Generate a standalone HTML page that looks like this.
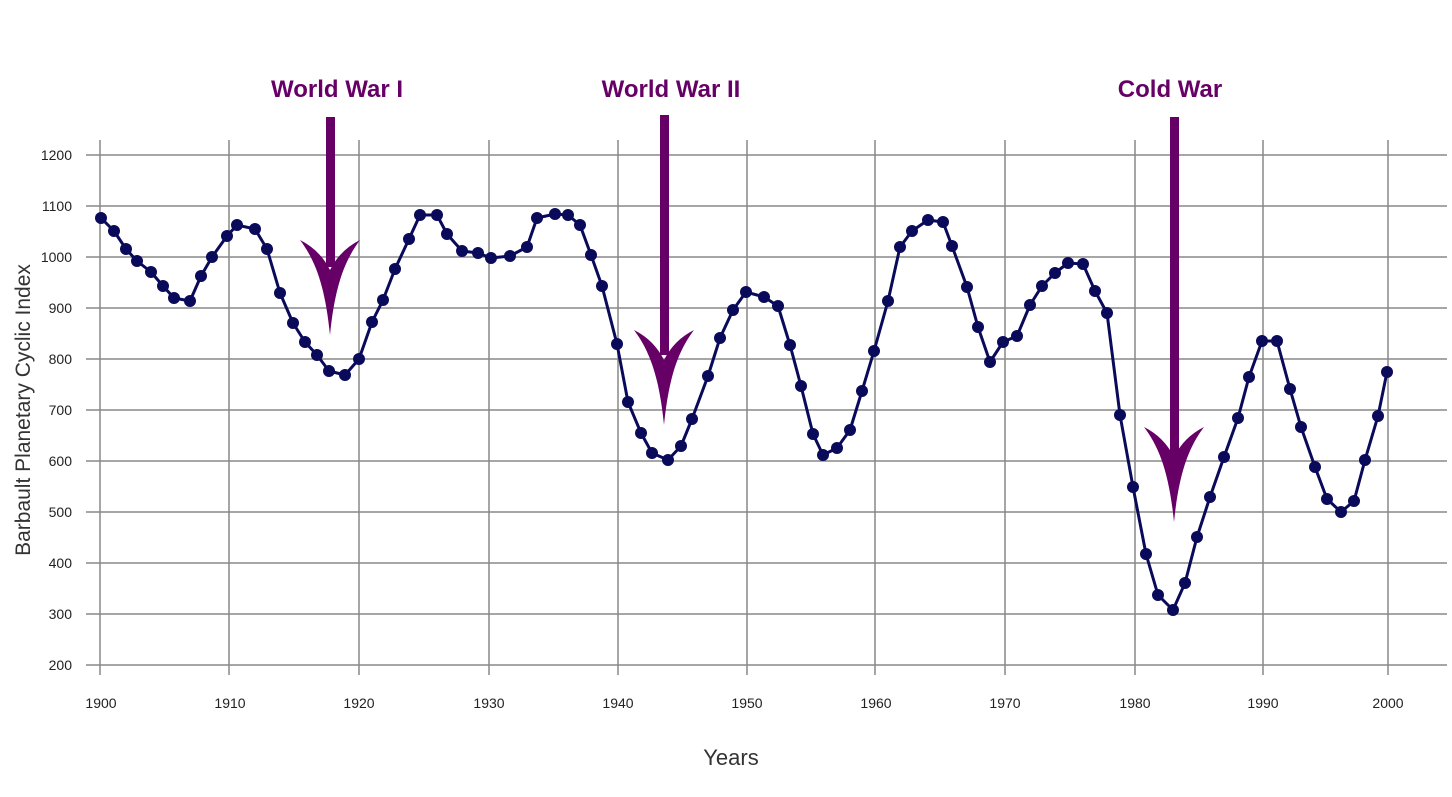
<!DOCTYPE html>
<html><head><style>body{margin:0;background:#fff}svg{display:block}</style></head><body>
<svg width="1452" height="797" xmlns="http://www.w3.org/2000/svg" font-family="Liberation Sans, sans-serif">
<rect width="1452" height="797" fill="#fff"/>
<g stroke="#888" stroke-width="1.5">
<line x1="86" y1="155" x2="1447" y2="155"/><line x1="86" y1="206" x2="1447" y2="206"/><line x1="86" y1="257" x2="1447" y2="257"/><line x1="86" y1="308" x2="1447" y2="308"/><line x1="86" y1="359" x2="1447" y2="359"/><line x1="86" y1="410" x2="1447" y2="410"/><line x1="86" y1="461" x2="1447" y2="461"/><line x1="86" y1="512" x2="1447" y2="512"/><line x1="86" y1="563" x2="1447" y2="563"/><line x1="86" y1="614" x2="1447" y2="614"/><line x1="86" y1="665" x2="1447" y2="665"/>
<line x1="100" y1="140" x2="100" y2="675"/><line x1="229" y1="140" x2="229" y2="675"/><line x1="359" y1="140" x2="359" y2="675"/><line x1="489" y1="140" x2="489" y2="675"/><line x1="618" y1="140" x2="618" y2="675"/><line x1="747" y1="140" x2="747" y2="675"/><line x1="875" y1="140" x2="875" y2="675"/><line x1="1005" y1="140" x2="1005" y2="675"/><line x1="1135" y1="140" x2="1135" y2="675"/><line x1="1263" y1="140" x2="1263" y2="675"/><line x1="1388" y1="140" x2="1388" y2="675"/>
</g>
<g font-size="14" fill="#222" text-anchor="end">
<text x="72" y="160">1200</text><text x="72" y="211">1100</text><text x="72" y="262">1000</text><text x="72" y="313">900</text><text x="72" y="364">800</text><text x="72" y="415">700</text><text x="72" y="466">600</text><text x="72" y="517">500</text><text x="72" y="568">400</text><text x="72" y="619">300</text><text x="72" y="670">200</text>
</g>
<g font-size="14" fill="#222" text-anchor="middle">
<text x="101" y="708">1900</text><text x="230" y="708">1910</text><text x="359" y="708">1920</text><text x="489" y="708">1930</text><text x="618" y="708">1940</text><text x="747" y="708">1950</text><text x="876" y="708">1960</text><text x="1005" y="708">1970</text><text x="1135" y="708">1980</text><text x="1263" y="708">1990</text><text x="1388" y="708">2000</text>
</g>
<text x="731" y="765" font-size="22" fill="#333" text-anchor="middle">Years</text>
<text transform="translate(30,410) rotate(-90)" font-size="21" fill="#333" text-anchor="middle">Barbault Planetary Cyclic Index</text>
<g font-size="24" font-weight="bold" fill="#660066" text-anchor="middle">
<text x="337" y="97">World War I</text><text x="671" y="97">World War II</text><text x="1170" y="97">Cold War</text>
</g>
<g fill="#660066">
<rect x="326" y="117" width="9" height="150"/>
<path d="M330,335 C325,285 315,260 300,240 Q320,250 330,270 Q340,250 360,240 C345,260 335,285 330,335Z"/>
<rect x="660" y="115" width="9" height="240"/>
<path d="M664,425 C659,375 649,350 634,330 Q654,340 664,360 Q674,340 694,330 C679,350 669,375 664,425Z"/>
<rect x="1170" y="117" width="9" height="340"/>
<path d="M1174,522 C1169,472 1159,447 1144,427 Q1164,437 1174,457 Q1184,437 1204,427 C1189,447 1179,472 1174,522Z"/>
</g>
<g id="s">
<polyline fill="none" stroke="#0a0a5a" stroke-width="3" stroke-linejoin="round" points="101,218 114,231 126,249 137,261 151,272 163,286 174,298 190,301 201,276 212,257 227,236 237,225 255,229 267,249 280,293 293,323 305,342 317,355 329,371 345,375 359,359 372,322 383,300 395,269 409,239 420,215 437,215 447,234 462,251 478,253 491,258 510,256 527,247 537,218 555,214 568,215 580,225 591,255 602,286 617,344 628,402 641,433 652,453 668,460 681,446 692,419 708,376 720,338 733,310 746,292 764,297 778,306 790,345 801,386 813,434 823,455 837,448 850,430 862,391 874,351 888,301 900,247 912,231 928,220 943,222 952,246 967,287 978,327 990,362 1003,342 1017,336 1030,305 1042,286 1055,273 1068,263 1083,264 1095,291 1107,313 1120,415 1133,487 1146,554 1158,595 1173,610 1185,583 1197,537 1210,497 1224,457 1238,418 1249,377 1262,341 1277,341 1290,389 1301,427 1315,467 1327,499 1341,512 1354,501 1365,460 1378,416 1387,372"/>
</g>
<g fill="#0a0a5a" id="dots"></g>
<script>
var p=document.querySelector('#s polyline').getAttribute('points').trim().split(/\s+/),g=document.getElementById('dots');
p.forEach(function(s){var a=s.split(','),c=document.createElementNS('http://www.w3.org/2000/svg','circle');c.setAttribute('cx',a[0]);c.setAttribute('cy',a[1]);c.setAttribute('r','6');g.appendChild(c);});
</script>
</svg>
</body></html>
